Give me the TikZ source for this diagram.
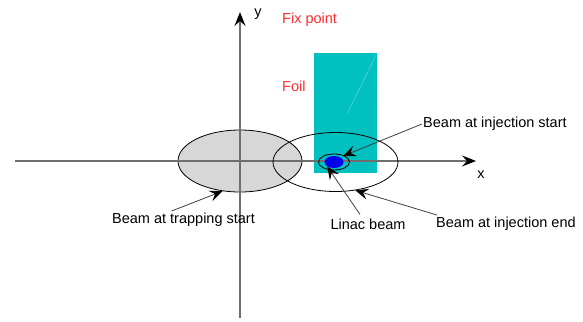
\documentclass[tikz,border=0pt]{standalone}
\usepackage{fontspec}
\setmainfont{Liberation Sans}
\usepackage{tikz}
\usetikzlibrary{arrows,arrows.meta,shapes,positioning}
\usepackage{xcolor}
\definecolor{foilcyan}{RGB}{0,192,192}
\definecolor{fixred}{RGB}{255,45,45}
\definecolor{axisgray}{RGB}{110,110,110}
\definecolor{trapgray}{RGB}{215,215,215}
\definecolor{linacblue}{RGB}{0,0,235}
\tikzstyle{axis} = [draw=axisgray, line width=1.1pt, -{Stealth[length=14pt,width=11pt,inset=5pt,color=black]}]
\tikzstyle{beam} = [ellipse, draw=black, line width=0.8pt, inner sep=0pt]
\tikzstyle{label} = [font=\fontsize{14.5}{16}\selectfont, inner sep=1pt]
\tikzstyle{pointer} = [draw=black!75, line width=0.8pt, -{Stealth[length=13pt,width=11pt,inset=5pt,color=black]}]

\begin{document}
\begin{tikzpicture}[x=1pt, y=-1pt]
\useasboundingbox (0,0) rectangle (583,321);
% foil
\node[rectangle, fill=foilcyan, minimum width=63pt, minimum height=120pt, inner sep=0pt] (foil) at (345.5,113) {};
\draw[white!45!foilcyan, line width=0.4pt] (376,55) -- (347,114);
% axes
\coordinate (xstart) at (15,161);
\coordinate (xend) at (476,161);
\coordinate (ystart) at (240,318);
\coordinate (yend) at (240,12);
% trapping beam
\node[beam, fill=trapgray, minimum width=124pt, minimum height=62pt] (trap) at (240,161) {};
\draw[axis] (xstart) -- (xend);
\draw[axis] (ystart) -- (yend);
\node[beam, minimum width=125pt, minimum height=59pt] (injend) at (335.5,162) {};
\node[beam, minimum width=31pt, minimum height=16pt] (injstart) at (334,162) {};
\node[ellipse, fill=linacblue, minimum width=19pt, minimum height=12pt, inner sep=0pt] (linac) at (334,162) {};
% labels
\node[label] (ylab) at (258,14) {y};
\node[label] (xlab) at (481,175) {x};
\node[label, text=fixred, anchor=west] (fix) at (281,20) {Fix point};
\node[label, text=fixred, anchor=west] (foillab) at (281,86) {Foil};
\node[label, anchor=west] (startlab) at (422,124) {Beam at injection start};
\node[label] (linaclab) at (368,224) {Linac beam};
\node[label, anchor=west] (endlab) at (435,224) {Beam at injection end};
\node[label, anchor=west] (traplab) at (111,220) {Beam at trapping start};
% pointers
\draw[pointer] (startlab.west) -- (343,156);
\draw[pointer] (linaclab.north) ++(-8,-3) -- (linac.south west);
\draw[pointer] (endlab.north west) ++(2,-1) -- (injend.-55);
\draw[pointer] (traplab.north) ++(-12,-1) -- (trap.-120);
\end{tikzpicture}
\end{document}
